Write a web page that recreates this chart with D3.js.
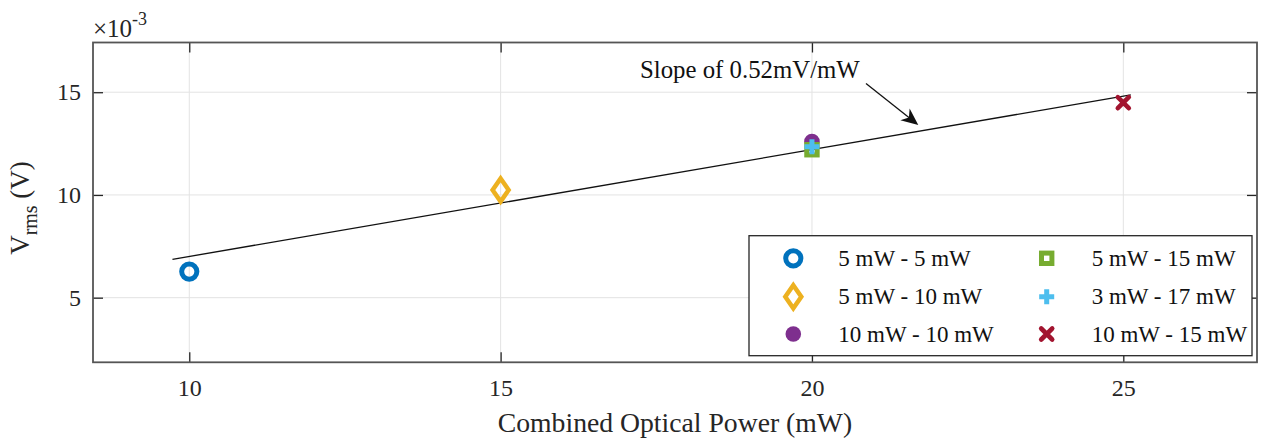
<!DOCTYPE html>
<html>
<head>
<meta charset="utf-8">
<script src="https://cdn.jsdelivr.net/npm/d3@7"></script>
<style>
  html, body { margin: 0; padding: 0; background: #fff; }
  svg { display: block; font-family: "Liberation Serif", "Times New Roman", serif; }
</style>
</head>
<body>
<svg id="chart" width="1261" height="440"></svg>
<script>
// Measured RMS voltage against combined optical power for each pair of beam powers
const seriesNames = ["5 mW - 5 mW", "5 mW - 10 mW", "10 mW - 10 mW", "5 mW - 15 mW", "3 mW - 17 mW", "10 mW - 15 mW"];
const powerMW     = [10, 15, 20, 20, 20, 25];
const vrmsV       = [0.00627, 0.01024, 0.01260, 0.01220, 0.01235, 0.01449];
const seriesColors = ["#0072BD", "#EDB120", "#7E2F8E", "#77AC30", "#4DBEEE", "#A2142F"];
const markerKinds  = ["ring", "diamond", "dot", "square", "plus", "cross"];

// Linear fit: slope in mV/mW, intercept in mV, drawn over this power range
const fitSlope = 0.52;
const fitIntercept = 1.806;
const fitRange = [9.73, 25.12];

const xTicks = [10, 15, 20, 25];
const yTicks = [5, 10, 15];           // in units of 1e-3 V
const xDomain = [8.454, 27.147];
const yDomain = [1.855, 17.42];       // in units of 1e-3 V

const svg = d3.select("#chart");
const plotL = 93, plotR = 1257, plotT = 42.5, plotB = 362.3;

const x = d3.scaleLinear().domain(xDomain).range([plotL, plotR]);
const y = d3.scaleLinear().domain(yDomain).range([plotB, plotT]);

const axisColor = "#262626";
const gridColor = "#e3e3e3";

// Grid
const grid = svg.append("g");
grid.selectAll("line.gx").data(xTicks).join("line")
  .attr("x1", d => x(d)).attr("x2", d => x(d))
  .attr("y1", plotT).attr("y2", plotB)
  .attr("stroke", gridColor).attr("stroke-width", 1);
grid.selectAll("line.gy").data(yTicks).join("line")
  .attr("x1", plotL).attr("x2", plotR)
  .attr("y1", d => y(d)).attr("y2", d => y(d))
  .attr("stroke", gridColor).attr("stroke-width", 1);

// Axes with inward ticks on all four sides
const tickLen = 10;
const fontTick = 24;
const xAxis = d3.axisBottom(x).tickValues(xTicks).tickSize(-tickLen).tickPadding(17).tickFormat(d3.format("d"));
const yAxis = d3.axisLeft(y).tickValues(yTicks).tickSize(-tickLen).tickPadding(12).tickFormat(d3.format("d"));

const gx = svg.append("g").attr("transform", `translate(0,${plotB})`).call(xAxis);
const gy = svg.append("g").attr("transform", `translate(${plotL},0)`).call(yAxis);
const gxTop = svg.append("g").attr("transform", `translate(0,${plotT})`)
  .call(d3.axisTop(x).tickValues(xTicks).tickSize(-tickLen).tickFormat(""));
const gyRight = svg.append("g").attr("transform", `translate(${plotR},0)`)
  .call(d3.axisRight(y).tickValues(yTicks).tickSize(-tickLen).tickFormat(""));

[gx, gy, gxTop, gyRight].forEach(g => {
  g.select(".domain").remove();
  g.selectAll(".tick line").attr("stroke", axisColor).attr("stroke-width", 1.3);
  g.selectAll(".tick text").attr("fill", axisColor)
    .style("font-family", "'Liberation Serif', serif").style("font-size", fontTick + "px");
});

// Plot box
svg.append("rect")
  .attr("x", plotL).attr("y", plotT)
  .attr("width", plotR - plotL).attr("height", plotB - plotT)
  .attr("fill", "none").attr("stroke", "#555").attr("stroke-width", 1.8);

// Exponent label
const expo = svg.append("text").attr("x", 93).attr("y", 37)
  .attr("fill", axisColor).style("font-size", "25px");
expo.append("tspan").text("×10");
expo.append("tspan").attr("dy", -12).style("font-size", "18px").text("-3");

// Axis titles
svg.append("text")
  .attr("x", 675).attr("y", 432)
  .attr("text-anchor", "middle").attr("fill", axisColor)
  .style("font-size", "27.7px")
  .text("Combined Optical Power (mW)");

const ylab = svg.append("text")
  .attr("transform", "translate(29,208) rotate(-90)")
  .attr("text-anchor", "middle").attr("fill", axisColor)
  .style("font-size", "27px");
ylab.append("tspan").text("V");
ylab.append("tspan").attr("dy", 8).style("font-size", "20px").text("rms");
ylab.append("tspan").attr("dy", -8).text(" (V)");

// Fit line
const fitLine = d3.line().x(d => x(d)).y(d => y(fitSlope * d + fitIntercept));
svg.append("path")
  .datum(fitRange)
  .attr("d", fitLine)
  .attr("fill", "none").attr("stroke", "#111").attr("stroke-width", 1.3);

// Marker drawing
function drawMarker(g, kind, color) {
  switch (kind) {
    case "ring":
      g.append("circle").attr("r", 7.6).attr("fill", "none").attr("stroke", color).attr("stroke-width", 5);
      break;
    case "diamond":
      g.append("path").attr("d", "M0,-11.5L8,0L0,11.5L-8,0Z")
        .attr("fill", "none").attr("stroke", color).attr("stroke-width", 4.5).attr("stroke-linejoin", "miter");
      break;
    case "dot":
      g.append("circle").attr("r", 7.8).attr("fill", color);
      break;
    case "square":
      g.append("rect").attr("x", -5.2).attr("y", -5.2).attr("width", 10.4).attr("height", 10.4)
        .attr("fill", "none").attr("stroke", color).attr("stroke-width", 5);
      break;
    case "plus":
      g.append("path").attr("d", "M-7.5,0L7.5,0M0,-7.5L0,7.5")
        .attr("stroke", color).attr("stroke-width", 5);
      break;
    case "cross":
      g.append("path").attr("d", "M-5.5,-5.5L5.5,5.5M-5.5,5.5L5.5,-5.5")
        .attr("stroke", color).attr("stroke-width", 4.6).attr("stroke-linecap", "round");
      break;
  }
}

// Data points
const points = svg.append("g");
powerMW.forEach((p, i) => {
  const g = points.append("g").attr("transform", `translate(${x(p)},${y(vrmsV[i] * 1e3)})`);
  drawMarker(g, markerKinds[i], seriesColors[i]);
});

// Slope annotation with arrow
svg.append("text")
  .attr("x", 640).attr("y", 77.5).attr("fill", "#111")
  .style("font-size", "24.8px")
  .text("Slope of 0.52mV/mW");

const arrowStart = [866, 83.5], arrowTip = [918.3, 125];
const ang = Math.atan2(arrowTip[1] - arrowStart[1], arrowTip[0] - arrowStart[0]);
svg.append("line")
  .attr("x1", arrowStart[0]).attr("y1", arrowStart[1])
  .attr("x2", arrowTip[0] - 10 * Math.cos(ang)).attr("y2", arrowTip[1] - 10 * Math.sin(ang))
  .attr("stroke", "#111").attr("stroke-width", 1.3);
svg.append("path")
  .attr("d", "M0,0L-17,-7.5L-12,0L-17,7.5Z")
  .attr("transform", `translate(${arrowTip[0]},${arrowTip[1]}) rotate(${ang * 180 / Math.PI})`)
  .attr("fill", "#111");

// Legend
const lgX = 749, lgY = 235.7, lgW = 503, lgH = 120;
svg.append("rect").attr("x", lgX).attr("y", lgY).attr("width", lgW).attr("height", lgH)
  .attr("fill", "#fff").attr("stroke", "#262626").attr("stroke-width", 1.3);

const colMarkerX = [793.3, 1046.7], colTextX = [838.3, 1091.7];
const rowY = [258.3, 296.7, 334];
seriesNames.forEach((name, i) => {
  const col = Math.floor(i / 3), row = i % 3;
  const g = svg.append("g").attr("transform", `translate(${colMarkerX[col]},${rowY[row]})`);
  drawMarker(g, markerKinds[i], seriesColors[i]);
  svg.append("text")
    .attr("x", colTextX[col]).attr("y", rowY[row] + 7.5)
    .attr("fill", "#111").style("font-size", "23px")
    .text(name);
});
</script>
</body>
</html>
